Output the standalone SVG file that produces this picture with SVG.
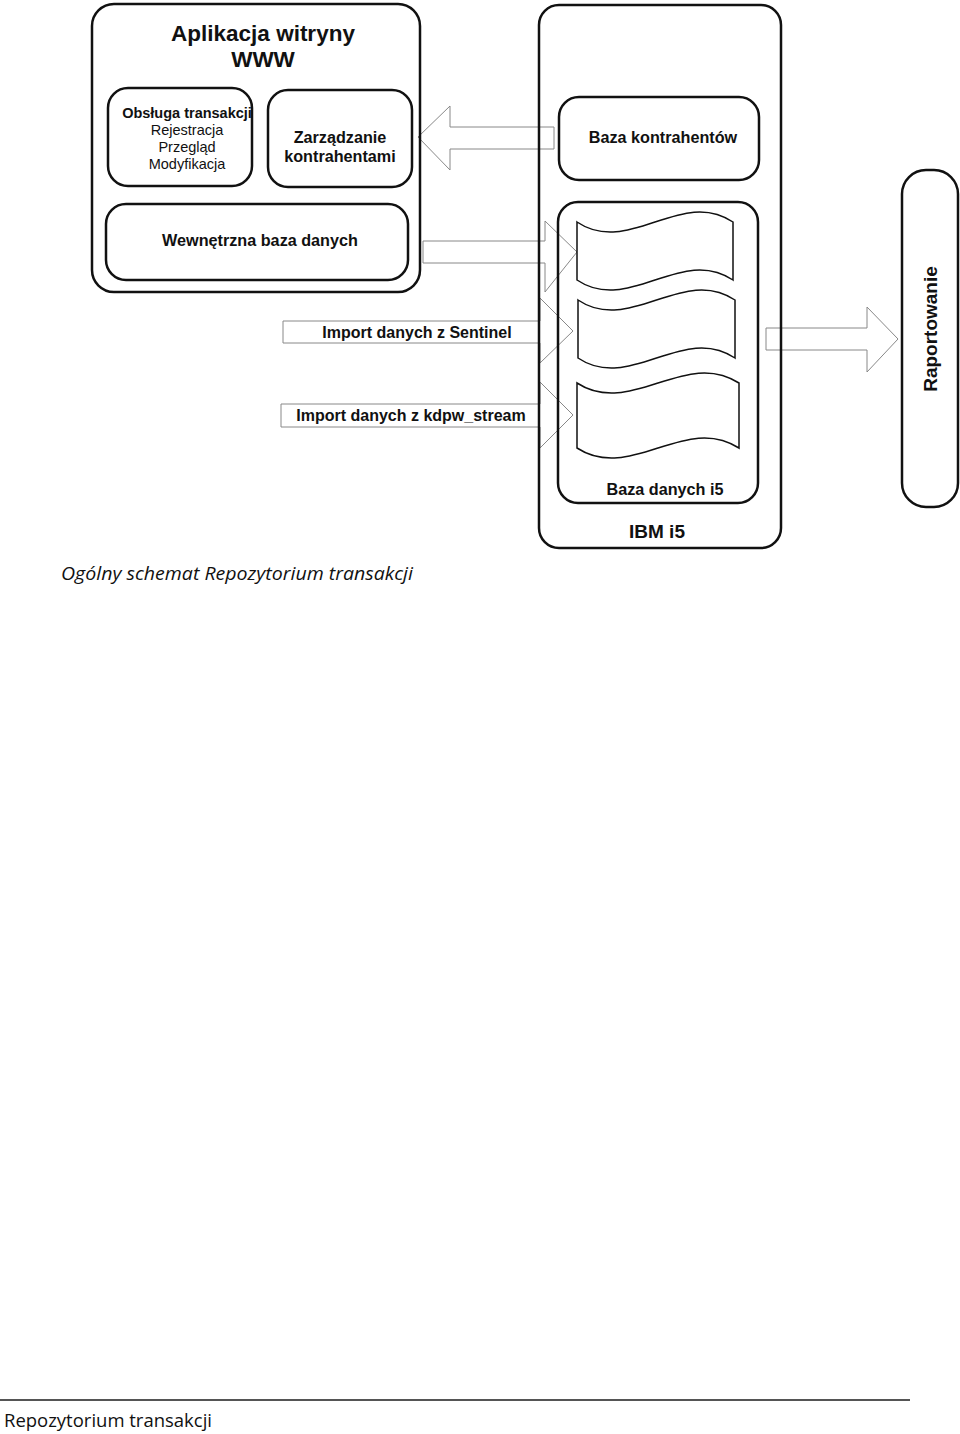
<svg xmlns="http://www.w3.org/2000/svg" width="960" height="1434" viewBox="0 0 960 1434">
<style>
.box{fill:none;stroke:#111;stroke-width:2.5}
.arrow{fill:#fff;stroke:#888;stroke-width:1}
.doc{fill:#fff;stroke:#111;stroke-width:1.5}
.b{font-family:"Liberation Sans",Arial,sans-serif;font-weight:bold;fill:#111;text-anchor:middle}
.r{font-family:"Liberation Sans",Arial,sans-serif;fill:#111;text-anchor:middle}
.cap{font-family:"Open Sans","Noto Sans",sans-serif;fill:#111}
</style>
<rect width="960" height="1434" fill="#fff"/>
<g id="connectors">
<path class="arrow" d="M554,127 L450,127 L450,106 L418,137 L450,170 L450,149 L554,149 Z"/>
<path class="arrow" d="M423,241 L545,241 L545,221 L577,252 L545,292 L545,263 L423,263 Z"/>
<path class="arrow" d="M283,321 L540,321 L540,298 L573,331 L540,363 L540,343 L283,343 Z"/>
<path class="arrow" d="M281,404 L540,404 L540,382 L573,415 L540,448 L540,427 L281,427 Z"/>
<path class="arrow" d="M766,328 L867,328 L867,307 L898,339 L867,372 L867,350 L766,350 Z"/>
<text class="b" x="417" y="338" font-size="16">Import danych z Sentinel</text>
<text class="b" x="411" y="421" font-size="16">Import danych z kdpw_stream</text>
</g>
<g id="app">
<rect class="box" x="92" y="4" width="328" height="288" rx="22"/>
<text class="b" x="263" y="41" font-size="22.5">Aplikacja witryny</text>
<text class="b" x="263" y="67" font-size="22.5">WWW</text>
</g>
<g id="obsluga">
<rect class="box" x="108" y="88" width="144" height="98" rx="20"/>
<text class="b" x="187" y="118" font-size="14.5">Obsługa transakcji</text>
<text class="r" x="187" y="135" font-size="14.5">Rejestracja</text>
<text class="r" x="187" y="152" font-size="14.5">Przegląd</text>
<text class="r" x="187" y="169" font-size="14.5">Modyfikacja</text>
</g>
<g id="zarzadzanie">
<rect class="box" x="268" y="90" width="144" height="97" rx="20"/>
<text class="b" x="340" y="143" font-size="16.2">Zarządzanie</text>
<text class="b" x="340" y="162" font-size="16.2">kontrahentami</text>
</g>
<g id="wewnetrzna">
<rect class="box" x="106" y="204" width="302" height="76" rx="20"/>
<text class="b" x="260" y="246" font-size="16.2">Wewnętrzna baza danych</text>
</g>
<g id="ibm">
<rect class="box" x="539" y="5" width="242" height="543" rx="20"/>
<text class="b" x="657" y="538" font-size="19">IBM i5</text>
</g>
<g id="baza-kontrahentow">
<rect class="box" x="559" y="97" width="200" height="83" rx="20"/>
<text class="b" x="663" y="143" font-size="16.2">Baza kontrahentów</text>
</g>
<g id="baza-i5">
<rect class="box" x="558" y="202" width="200" height="301" rx="20"/>
<path class="doc" d="M577,222 C629,257 681,187 733,222 L733,280 C681,245 629,315 577,280 Z"/>
<path class="doc" d="M578,300 C630,335 683,265 735,300 L735,358 C683,323 630,393 578,358 Z"/>
<path class="doc" d="M577,383 C631,418 685,348 739,383 L739,448 C685,413 631,483 577,448 Z"/>
<text class="b" x="665" y="495" font-size="16.2">Baza danych i5</text>
</g>
<g id="raportowanie">
<rect class="box" x="902" y="170" width="56" height="337" rx="24"/>
<text class="b" transform="translate(937,329) rotate(-90)" x="0" y="0" font-size="19">Raportowanie</text>
</g>
<text class="cap" x="61" y="580" font-size="18" font-style="italic" textLength="352" lengthAdjust="spacingAndGlyphs">Ogólny schemat Repozytorium transakcji</text>
<line x1="0" y1="1400" x2="910" y2="1400" stroke="#555" stroke-width="2"/>
<text class="cap" x="4" y="1427" font-size="19" textLength="208" lengthAdjust="spacingAndGlyphs">Repozytorium transakcji</text>
</svg>
